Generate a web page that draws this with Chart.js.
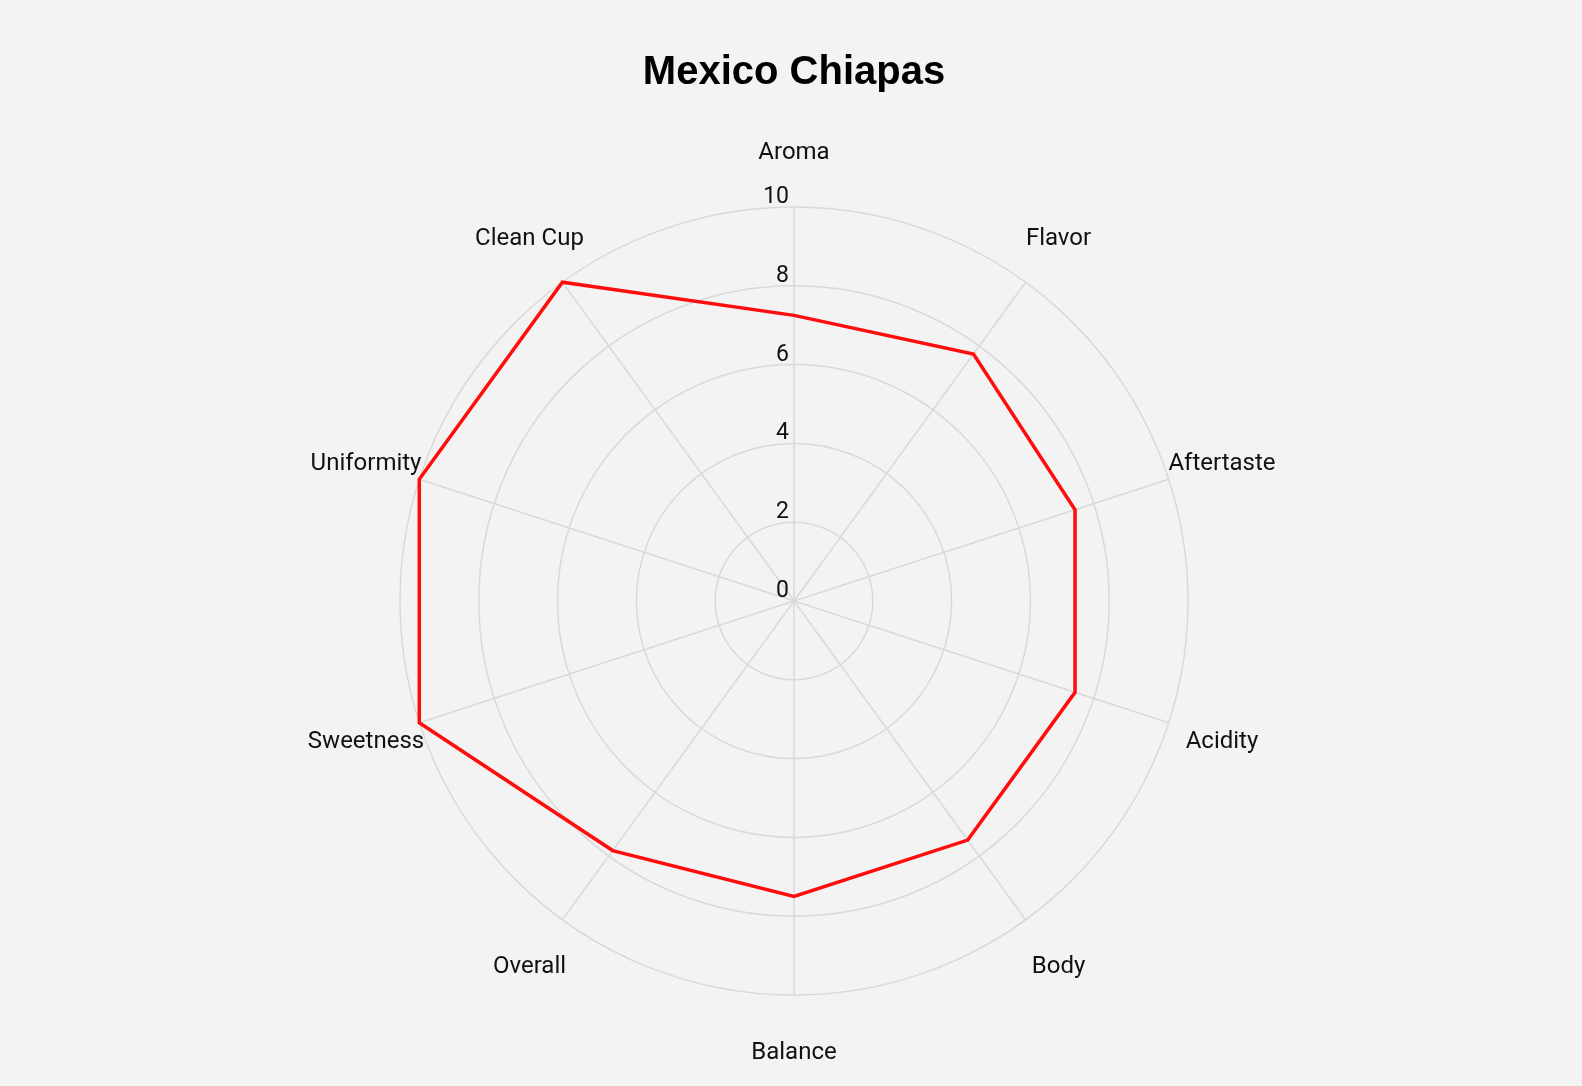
<!DOCTYPE html>
<html>
<head>
<meta charset="utf-8">
<title>Mexico Chiapas</title>
<script src="https://cdn.jsdelivr.net/npm/chart.js@4"></script>
<style>
    html, body { margin: 0; padding: 0; background: #f3f3f3; overflow: hidden; }
    #wrap { width: 1582px; height: 1086px; position: relative; }
</style>
</head>
<body>
<div id="wrap"><canvas id="cupChart"></canvas></div>
<script>
// cupping attributes, clockwise from the top
const categories = ["Aroma", "Flavor", "Aftertaste", "Acidity", "Body",
    "Balance", "Overall", "Sweetness", "Uniformity", "Clean Cup"];
const scores = [7.25, 7.75, 7.5, 7.5, 7.5, 7.5, 7.83, 10, 10, 10];
const tickValues = [0, 2, 4, 6, 8, 10];
const chartTitle = "Mexico Chiapas";

// labels drawn by hand so they sit centred round the ring, like the original
const labelPlugin = {
    id: "cupLabels",
    beforeDatasetsDraw(chart) {
        const r = chart.scales.r;
        const ctx = chart.ctx;
        ctx.save();
        ctx.fillStyle = "#111";
        ctx.font = "23px Roboto";
        ctx.textAlign = "right";
        ctx.textBaseline = "alphabetic";
        tickValues.forEach(v => {
            const d = r.getDistanceFromCenterForValue(v);
            ctx.fillText(String(v), r.xCenter - 5, r.yCenter - d - 4);
        });
        ctx.font = "24px Roboto";
        ctx.textAlign = "center";
        ctx.textBaseline = "middle";
        categories.forEach((c, i) => {
            const p = r.getPointPosition(i, r.drawingArea + 56);
            ctx.fillText(c, p.x, p.y + 2);
        });
        ctx.restore();
    }
};

new Chart(document.getElementById("cupChart"), {
    type: "radar",
    data: {
        labels: categories,
        datasets: [{
            label: chartTitle,
            data: scores,
            borderColor: "#ff0d0d",
            borderWidth: 3.5,
            fill: false,
            pointRadius: 0,
            pointHoverRadius: 0,
            tension: 0
        }]
    },
    options: {
        responsive: true,
        maintainAspectRatio: false,
        animation: false,
        layout: { padding: { left: 6, right: 0, top: 0, bottom: 91 } },
        plugins: {
            legend: { display: false },
            tooltip: { enabled: false },
            title: {
                display: true,
                text: chartTitle,
                color: "#000",
                font: { family: "'Liberation Sans', Arial, sans-serif", size: 40, weight: "bold", lineHeight: 1.2 },
                padding: { top: 49, bottom: 110 }
            }
        },
        scales: {
            r: {
                min: 0,
                max: 10,
                ticks: { stepSize: 2, display: false },
                pointLabels: { display: false },
                grid: { circular: true, color: "#d9d9d9", lineWidth: 1.5 },
                angleLines: { color: "#d9d9d9", lineWidth: 1.5 }
            }
        }
    },
    plugins: [labelPlugin]
});
</script>
</body>
</html>
